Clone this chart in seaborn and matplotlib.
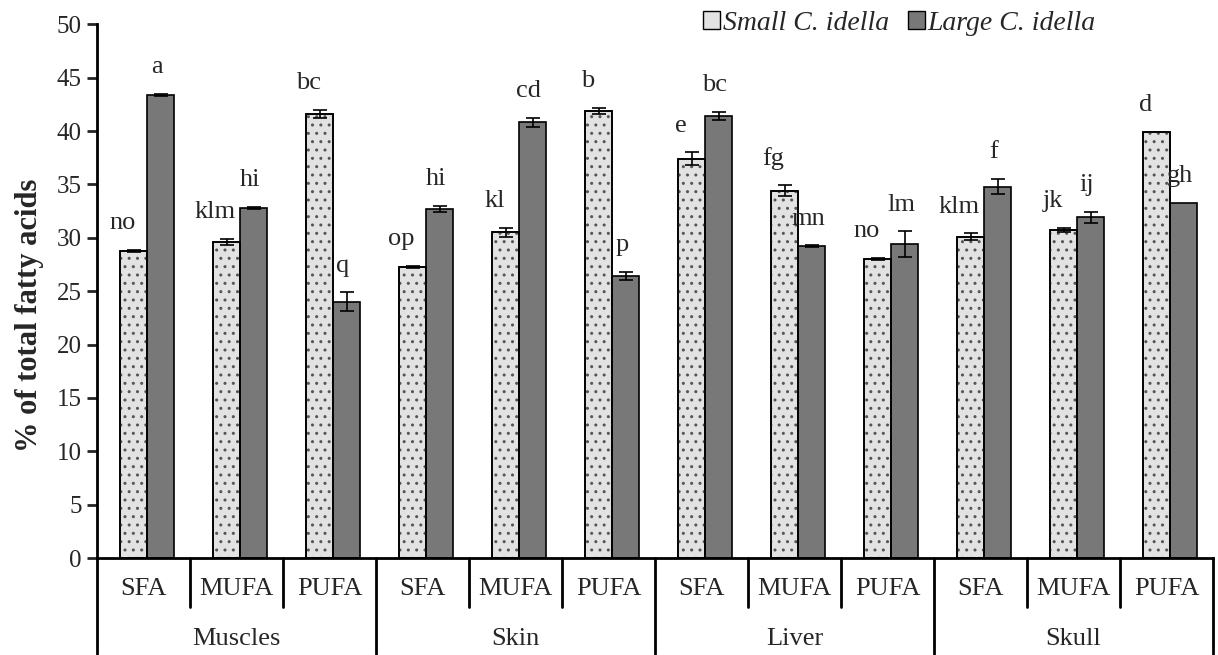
import numpy as np
import pandas as pd
import matplotlib
matplotlib.use("Agg")
import matplotlib.pyplot as plt
from matplotlib.patches import Patch
import seaborn as sns

# ---- data -------------------------------------------------------------
tissues = ["Muscles", "Skin", "Liver", "Skull"]
acids = ["SFA", "MUFA", "PUFA"]
sizes = ["Small C. idella", "Large C. idella"]

small_mean = [28.8, 29.6, 41.6, 27.3, 30.5, 41.9, 37.4, 34.4, 28.0, 30.1, 30.7, 39.9]
small_err = [0.1, 0.3, 0.4, 0.1, 0.4, 0.3, 0.6, 0.5, 0.1, 0.3, 0.2, 0.0]
large_mean = [43.4, 32.8, 24.0, 32.7, 40.8, 26.4, 41.4, 29.2, 29.4, 34.8, 31.9, 33.3]
large_err = [0.1, 0.1, 0.9, 0.3, 0.4, 0.4, 0.4, 0.1, 1.2, 0.7, 0.5, 0.0]

small_letters = ["no", "klm", "bc", "op", "kl", "b", "e", "fg", "no", "klm", "jk", "d"]
large_letters = ["a", "hi", "q", "hi", "cd", "p", "bc", "mn", "lm", "f", "ij", "gh"]

# ---- tidy frame -------------------------------------------------------
slots = [f"{t}|{a}" for t in tissues for a in acids]
df = pd.DataFrame({
    "slot": slots * 2,
    "size": [sizes[0]] * len(slots) + [sizes[1]] * len(slots),
    "value": small_mean + large_mean,
})

sns.set_theme(style="white")
plt.rcParams["font.family"] = ["Liberation Serif", "DejaVu Serif"]

light = "#e2e2e2"
dark = "#787878"

fig = plt.figure(figsize=(12.18, 6.55), dpi=100)
ax = fig.add_axes([0.0796, 0.148, 0.9163, 0.815])

sns.barplot(data=df, x="slot", y="value", hue="size", order=slots,
            hue_order=sizes, palette=[light, dark], width=0.58,
            errorbar=None, edgecolor="black", linewidth=1.2,
            legend=False, ax=ax)

# bars in hue order: first the small fish, then the large fish
bars = list(ax.patches)
for b in bars:
    b.set_x(b.get_x() + 0.04)
small_bars = bars[:len(slots)]
large_bars = bars[len(slots):]

# dotted texture on the light bars
for b in small_bars:
    ax.add_patch(plt.Rectangle((b.get_x(), 0), b.get_width(), b.get_height(),
                               facecolor="none", edgecolor="#555555",
                               hatch="..", linewidth=0, zorder=b.get_zorder() + 0.1))
    ax.add_patch(plt.Rectangle((b.get_x(), 0), b.get_width(), b.get_height(),
                               facecolor="none", edgecolor="black",
                               linewidth=1.2, zorder=b.get_zorder() + 0.2))

def annotate(bar_list, means, errs, letters, nudge):
    for b, m, e, lab in zip(bar_list, means, errs, letters):
        xc = b.get_x() + b.get_width() / 2
        if e > 0:
            ax.errorbar(xc, m, yerr=e, fmt="none", ecolor="black",
                        elinewidth=1.2, capsize=5, capthick=1.2, zorder=5)
        ax.text(xc + nudge, m + e + 2.5, lab, ha="center", va="center",
                fontsize=19)

annotate(small_bars, small_mean, small_err, small_letters, -0.12)
annotate(large_bars, large_mean, large_err, large_letters, -0.04)

# ---- axes --------------------------------------------------------------
ax.set_ylim(0, 50)
ax.set_xlim(-0.5, len(slots) - 0.5)
ax.set_yticks(np.arange(0, 51, 5))
ax.tick_params(axis="y", labelsize=18, length=7, width=2, direction="out",
               left=True, pad=4)
ax.set_xticks([])
ax.set_xlabel("")
ax.set_ylabel("% of total fatty acids", fontsize=22, fontweight="bold")
ax.yaxis.set_label_coords(-0.047, 0.455)
for side in ["top", "right"]:
    ax.spines[side].set_visible(False)
ax.spines["left"].set_linewidth(2)
ax.spines["bottom"].set_linewidth(2)
for s in ax.spines.values():
    s.set_color("black")

# two-level category table under the axis
trans = ax.get_xaxis_transform()
for i, slot in enumerate(slots):
    acid = slot.split("|")[1]
    ax.text(i, -0.058, acid, transform=trans, ha="center", va="center",
            fontsize=19, clip_on=False)
for k, t in enumerate(tissues):
    ax.text(3 * k + 1, -0.152, t, transform=trans, ha="center", va="center",
            fontsize=19, clip_on=False)
for i in range(len(slots) + 1):
    edge = i - 0.5
    low = -0.18 if i % 3 == 0 else -0.092
    ax.plot([edge, edge], [0, low], transform=trans, color="black",
            linewidth=2, clip_on=False)

# legend
handles = [Patch(facecolor=light, edgecolor="black", label=sizes[0]),
           Patch(facecolor=dark, edgecolor="black", label=sizes[1])]
ax.legend(handles=handles, loc="center right", bbox_to_anchor=(0.895, 1.002),
          ncol=2, frameon=False, prop={"style": "italic", "size": 20},
          handlelength=0.6, handleheight=0.6, handletextpad=0.1,
          columnspacing=0.7, borderpad=0, borderaxespad=0)

fig.savefig("out.png", dpi=100)
